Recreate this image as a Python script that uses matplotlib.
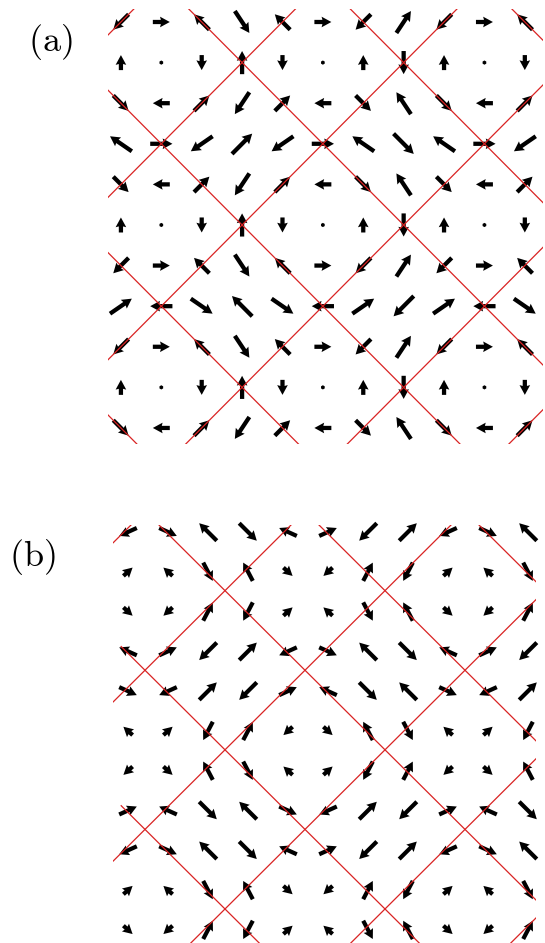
import numpy as np
import matplotlib
matplotlib.use('Agg')
import matplotlib.pyplot as plt

plt.rcParams['mathtext.fontset'] = 'cm'

# ---------------- data: panel (a) (rows top -> bottom, columns left -> right)
U_A = [
    [-.38, .42, -.38, .36, -.38, .42, -.38, .36, -.38, .42, -.38],
    [0, 0, 0, 0, 0, 0, 0, 0, 0, 0, 0],
    [.38, -.42, .38, -.36, .38, -.42, .38, -.36, .38, -.42, .38],
    [-.54, .55, -.54, .50, -.54, .55, -.54, .50, -.54, .55, -.54],
    [.38, -.42, .38, -.36, .38, -.42, .38, -.36, .38, -.42, .38],
    [0, 0, 0, 0, 0, 0, 0, 0, 0, 0, 0],
    [-.38, .42, -.38, .36, -.38, .42, -.38, .36, -.38, .42, -.38],
    [.54, -.55, .54, -.50, .54, -.55, .54, -.50, .54, -.55, .54],
    [-.38, .42, -.38, .36, -.38, .42, -.38, .36, -.38, .42, -.38],
    [0, 0, 0, 0, 0, 0, 0, 0, 0, 0, 0],
    [.38, -.42, .38, -.36, .38, -.42, .38, -.36, .38, -.42, .38],
]
V_A = [
    [-.38, 0, .38, -.54, .38, 0, -.38, .54, -.38, 0, .38],
    [.37, .04, -.37, .57, -.37, .04, .37, -.57, .37, .04, -.37],
    [-.38, 0, .38, -.54, .38, 0, -.38, .54, -.38, 0, .38],
    [.37, 0, -.37, .50, -.37, 0, .37, -.50, .37, 0, -.37],
    [-.38, 0, .38, -.54, .38, 0, -.38, .54, -.38, 0, .38],
    [.37, .04, -.37, .57, -.37, .04, .37, -.57, .37, .04, -.37],
    [-.38, 0, .38, -.54, .38, 0, -.38, .54, -.38, 0, .38],
    [.37, 0, -.37, .50, -.37, 0, .37, -.50, .37, 0, -.37],
    [-.38, 0, .38, -.54, .38, 0, -.38, .54, -.38, 0, .38],
    [.37, .04, -.37, .57, -.37, .04, .37, -.57, .37, .04, -.37],
    [-.38, 0, .38, -.54, .38, 0, -.38, .54, -.38, 0, .38],
]
# red domain-wall lines of panel (a): x - row = c  and  x + row = c
DIFF_A = [-10, -6, -2, 2, 6, 10]
SUM_A = [0, 4, 8, 12, 16, 20]

# ---------------- data: panel (b)
U_B = [
    [-.44, .44, -.44, .44, -.44, .44, -.44, .44, -.44, .44, -.44],
    [.23, -.23, .24, -.24, .23, -.23, .24, -.24, .23, -.23, .24],
    [.23, -.23, .24, -.24, .23, -.23, .24, -.24, .23, -.23, .24],
    [-.44, .44, -.44, .44, -.44, .44, -.44, .44, -.44, .44, -.44],
    [.44, -.44, .44, -.44, .44, -.44, .44, -.44, .44, -.44, .44],
    [-.23, .23, -.24, .24, -.23, .23, -.24, .24, -.23, .23, -.24],
    [-.23, .23, -.24, .24, -.23, .23, -.24, .24, -.23, .23, -.24],
    [.44, -.44, .44, -.44, .44, -.44, .44, -.44, .44, -.44, .44],
    [-.44, .44, -.44, .44, -.44, .44, -.44, .44, -.44, .44, -.44],
    [.23, -.23, .24, -.24, .23, -.23, .24, -.24, .23, -.23, .24],
    [.23, -.23, .24, -.24, .23, -.23, .24, -.24, .23, -.23, .24],
]
V_B = [
    [-.20, -.20, .44, -.44, .20, .20, -.44, .44, -.20, -.20, .44],
    [.21, .21, -.46, .46, -.21, -.21, .46, -.46, .21, .21, -.46],
    [-.21, -.21, .46, -.46, .21, .21, -.46, .46, -.21, -.21, .46],
    [.20, .20, -.44, .44, -.20, -.20, .44, -.44, .20, .20, -.44],
    [-.20, -.20, .44, -.44, .20, .20, -.44, .44, -.20, -.20, .44],
    [.21, .21, -.46, .46, -.21, -.21, .46, -.46, .21, .21, -.46],
    [-.21, -.21, .46, -.46, .21, .21, -.46, .46, -.21, -.21, .46],
    [.20, .20, -.44, .44, -.20, -.20, .44, -.44, .20, .20, -.44],
    [-.20, -.20, .44, -.44, .20, .20, -.44, .44, -.20, -.20, .44],
    [.21, .21, -.46, .46, -.21, -.21, .46, -.46, .21, .21, -.46],
    [-.21, -.21, .46, -.46, .21, .21, -.46, .46, -.21, -.21, .46],
]
DIFF_B = [-11.05, -7.05, -3.05, 0.95, 4.95, 8.95]
SUM_B = [-0.1, 3.9, 7.9, 11.9, 15.9, 19.9]

LABELS = [r'$\mathrm{(a)}$', r'$\mathrm{(b)}$']

# ---------------- figure
W, H = 545, 943
fig = plt.figure(figsize=(W / 100, H / 100), dpi=100)


def add_axes_px(left, top, right, bottom):
    return fig.add_axes([left / W, 1 - bottom / H, (right - left) / W, (bottom - top) / H])


RED = '#d92323'
qkw = dict(angles='xy', scale_units='xy', scale=1, pivot='middle', units='xy',
           width=0.105, headwidth=2.5, headlength=2.3, headaxislength=2.1,
           color='black', zorder=2, clip_on=False)


def panel(ax, U, V, diffs, sums, xlo_diff, xlo_sum, xhi):
    U = np.asarray(U, float)
    V = np.asarray(V, float)
    n_rows, n_cols = U.shape
    X, R = np.meshgrid(np.arange(n_cols), np.arange(n_rows))
    ax.quiver(X, -R, U, V, **qkw)
    xd = np.linspace(xlo_diff, xhi, 200)
    for c in diffs:
        ax.plot(xd, c - xd, color=RED, lw=0.9, zorder=3)
    xs = np.linspace(xlo_sum, xhi, 200)
    for c in sums:
        ax.plot(xs, xs - c, color=RED, lw=0.9, zorder=3)
    ax.set_axis_off()


# panel (a): grid origin ~ (121, 22) px, spacing ~40.4 px
axA = add_axes_px(108.0, 8.6, 543.0, 444.2)
axA.set_xlim(-0.32, 10.45)
axA.set_ylim(-10.4, 0.33)
panel(axA, U_A, V_A, DIFF_A, SUM_A, -0.32, -0.32, 10.45)

# panel (b): grid origin ~ (128, 532) px, spacing ~40 px
axB = add_axes_px(113.2, 525.2, 536.0, 943.0)
axB.set_xlim(-0.37, 10.2)
axB.set_ylim(-10.33, 0.17)
panel(axB, U_B, V_B, DIFF_B, SUM_B, -0.17, -0.37, 10.2)

fig.text(50 / W, 1 - 42 / H, LABELS[0], fontsize=26, ha='center', va='center')
fig.text(32 / W, 1 - 557 / H, LABELS[1], fontsize=26, ha='center', va='center')

fig.savefig('out.png', dpi=100)
